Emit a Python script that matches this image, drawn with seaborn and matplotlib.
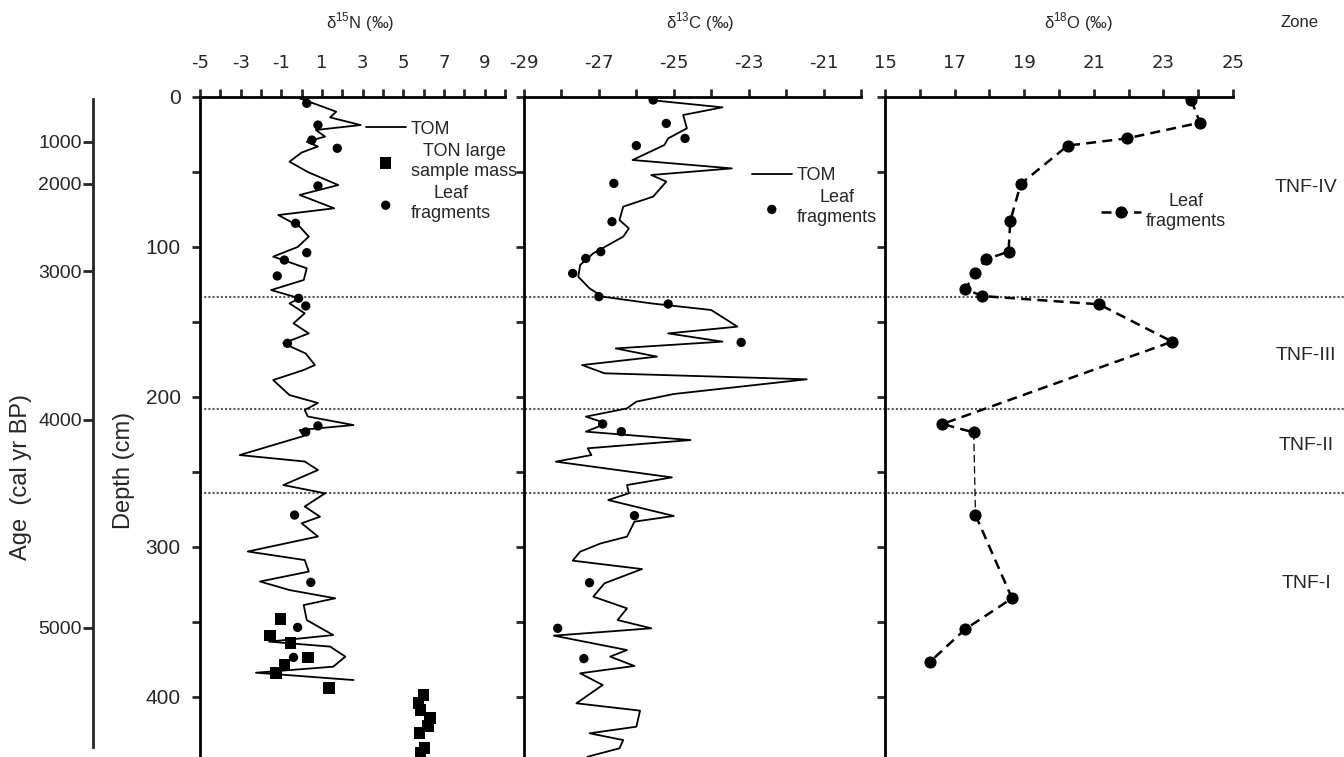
# Stable isotope profiles (d15N, d13C, d18O) vs depth, with age scale and zones

import numpy as np
import pandas as pd
import seaborn as sns
import matplotlib.pyplot as plt

# ---- data ----
# d15N of total organic matter
n15_tom_depth = [0.9, 5.3, 9.8, 13.6, 18.7, 22.0, 26.4, 29.8, 33.0, 37.0, 43.1, 50.0, 58.7, 65.3,
                 74.2, 78.7, 86.4, 93.1, 100.0, 106.4, 114.2, 122.0, 128.7, 134.2, 137.6, 144.2,
                 150.9, 157.6, 164.2, 171.0, 178.7, 182.0, 188.7, 198.7, 204.0, 208.7, 213.0,
                 218.7, 222.0, 226.0, 238.7, 243.0, 248.7, 258.7, 264.2, 273.0, 279.8, 284.2,
                 293.0, 303.0, 308.7, 316.4, 323.0, 328.7, 334.2, 338.7, 348.7, 358.7, 363.1,
                 366.4, 373.1, 379.8, 383.8, 388.7]
n15_tom_val = [-0.1, 0.8, 1.7, 1.4, 2.9, 0.7, 1.15, 0.25, 0.8, 0.0, -0.6, 0.3, 1.8, -0.1,
               1.6, -1.15, -0.1, 0.35, -0.2, -1.4, 0.25, 0.1, -1.5, -0.1, -0.6, 0.15,
               -0.4, 0.35, -0.9, 0.2, 0.65, 0.1, -1.4, -0.6, 0.8, 0.15, 0.3,
               2.55, -0.1, 0.1, -3.05, 0.15, 0.8, -0.9, 1.15, 0.15, 0.9, 0.0,
               0.8, -2.65, 0.15, 0.35, -2.05, -0.6, 1.65, 0.1, 0.25, 1.55, -1.6,
               1.4, 2.15, 1.55, -2.25, 2.55]
n15_leaf_depth = [4.2, 18.7, 28.7, 34.2, 59.3, 84.2, 103.8, 108.7, 119.3, 134.2, 139.3, 164.2,
                  219.3, 223.3, 278.7, 323.6, 353.6, 373.6]
n15_leaf_val = [0.25, 0.8, 0.5, 1.75, 0.8, -0.3, 0.25, -0.85, -1.2, -0.15, 0.2, -0.7,
                0.8, 0.2, -0.35, 0.45, -0.2, -0.4]
n15_ton_depth = [348.2, 359.1, 363.8, 373.6, 378.7, 383.8, 393.8, 398.7, 403.8, 408.7, 414.2,
                 419.3, 424.0, 434.2, 437.5]
n15_ton_val = [-1.05, -1.55, -0.55, 0.3, -0.85, -1.25, 1.35, 6.0, 5.75, 5.85, 6.3,
               6.2, 5.8, 6.05, 5.85]

# d13C
c13_tom_depth = [2.0, 6.9, 12.0, 20.9, 27.6, 32.0, 42.0, 47.6, 52.0, 56.4, 66.4, 73.1, 82.0,
                 87.6, 93.1, 104.2, 112.0, 119.8, 127.6, 133.1, 137.6, 142.0, 153.1, 157.6,
                 163.1, 167.6, 173.1, 178.7, 184.2, 188.2, 198.0, 203.1, 207.6, 213.1, 217.6,
                 223.1, 228.7, 234.2, 238.7, 243.1, 253.6, 258.7, 264.2, 268.7, 279.3, 283.1,
                 293.1, 297.6, 303.1, 309.1, 314.7, 324.2, 333.1, 340.9, 348.7, 354.2, 359.1,
                 368.7, 373.1, 379.3, 384.2, 392.0, 404.2, 409.1, 419.8, 424.2, 428.7, 434.2,
                 439.8]
c13_tom_val = [-25.65, -23.7, -24.75, -24.65, -25.15, -25.25, -26.1, -23.45, -25.6, -25.2,
               -25.55, -26.35, -26.45, -26.2, -26.35, -27.15, -27.5, -27.55, -27.25, -26.9,
               -25.6, -24.0, -23.3, -25.15, -23.7, -26.55, -25.45, -27.45, -26.85, -21.45,
               -25.0, -26.0, -26.25, -27.35, -26.8, -27.35, -24.55, -27.3, -27.2, -28.15,
               -25.05, -26.25, -26.2, -26.75, -25.0, -26.05, -26.25, -26.95, -27.5, -27.7,
               -25.85, -26.85, -27.15, -26.25, -26.5, -25.6, -28.2, -26.25, -26.7, -26.05,
               -27.5, -26.9, -27.6, -25.9, -26.0, -27.25, -26.35, -26.45, -27.3]
c13_leaf_depth = [2.0, 17.6, 27.6, 32.4, 57.6, 83.1, 103.1, 107.6, 117.6, 133.1, 138.0, 163.6,
                  218.0, 223.1, 279.1, 323.8, 354.2, 374.4]
c13_leaf_val = [-25.55, -25.2, -24.7, -26.0, -26.6, -26.65, -26.95, -27.35, -27.7, -27.0,
                -25.15, -23.2, -26.9, -26.4, -26.05, -27.25, -28.1, -27.4]

# d18O of leaf fragments
o18_depth = [2.0, 17.1, 27.6, 32.4, 58.0, 82.7, 103.1, 108.2, 117.6, 128.0, 132.7, 138.2,
             163.1, 218.0, 223.6, 278.7, 334.2, 354.9, 376.4]
o18_val = [23.8, 24.05, 21.95, 20.25, 18.9, 18.6, 18.55, 17.9, 17.6, 17.3, 17.8, 21.15,
           23.25, 16.65, 17.55, 17.6, 18.65, 17.3, 16.3]

# age scale (cal yr BP) and the depths they sit at
age_labels = [1000, 2000, 3000, 4000, 5000]
age_depth = [30, 58, 116, 215, 354]

# zone boundaries and labels
zone_bounds = [133, 208, 264]
zone_names = ["TNF-IV", "TNF-III", "TNF-II", "TNF-I"]
zone_mid = [60, 172, 232, 324]

n15_tom = pd.DataFrame({"val": n15_tom_val, "depth": n15_tom_depth})
n15_leaf = pd.DataFrame({"val": n15_leaf_val, "depth": n15_leaf_depth})
n15_ton = pd.DataFrame({"val": n15_ton_val, "depth": n15_ton_depth})
c13_tom = pd.DataFrame({"val": c13_tom_val, "depth": c13_tom_depth})
c13_leaf = pd.DataFrame({"val": c13_leaf_val, "depth": c13_leaf_depth})
o18 = pd.DataFrame({"val": o18_val, "depth": o18_depth})

sns.set_style("ticks")
plt.rcParams["font.family"] = ["Liberation Sans", "DejaVu Sans"]
plt.rcParams["mathtext.fontset"] = "custom"
plt.rcParams["mathtext.rm"] = "Liberation Sans"

W, H = 1344, 757
fig = plt.figure(figsize=(W / 100, H / 100), dpi=100)
top_h = 660 / H
ax0 = fig.add_axes([93 / W, 0, 0.001, top_h])
ax1 = fig.add_axes([200 / W, 0, 305 / W, top_h])
ax2 = fig.add_axes([524 / W, 0, 337 / W, top_h])
ax3 = fig.add_axes([885 / W, 0, 348 / W, top_h])

# d15N panel
sns.lineplot(data=n15_tom, x="val", y="depth", orient="y", sort=False, estimator=None,
             color="black", lw=1.3, label="TOM", ax=ax1)
sns.scatterplot(data=n15_ton, x="val", y="depth", marker="s", s=70, color="black",
                edgecolor="none", label="TON large\nsample mass", ax=ax1)
sns.scatterplot(data=n15_leaf, x="val", y="depth", marker="o", s=45, color="black",
                edgecolor="none", label="Leaf\nfragments", ax=ax1)

# d13C panel
sns.lineplot(data=c13_tom, x="val", y="depth", orient="y", sort=False, estimator=None,
             color="black", lw=1.3, label="TOM", ax=ax2)
sns.scatterplot(data=c13_leaf, x="val", y="depth", marker="o", s=45, color="black",
                edgecolor="none", label="Leaf\nfragments", ax=ax2)

# d18O panel (thin dashes across the TNF-II / TNF-I gap)
sns.lineplot(data=o18.iloc[:15], x="val", y="depth", orient="y", sort=False, estimator=None,
             color="black", lw=1.8, linestyle=(0, (4, 2.5)), marker="o", ms=8, mec="black",
             label="Leaf\nfragments", ax=ax3)
sns.lineplot(data=o18.iloc[14:16], x="val", y="depth", orient="y", sort=False, estimator=None,
             color="black", lw=0.9, linestyle=(0, (6, 3)), ax=ax3)
sns.lineplot(data=o18.iloc[15:], x="val", y="depth", orient="y", sort=False, estimator=None,
             color="black", lw=1.8, linestyle=(0, (4, 2.5)), marker="o", ms=8, mec="black", ax=ax3)

panels = [
    (ax1, (-5, 10), range(-5, 10, 2), range(-4, 11, 2), "δ$^{15}$N (‰)", 0.525),
    (ax2, (-29, -20), range(-29, -20, 2), range(-28, -19, 2), "δ$^{13}$C (‰)", 0.522),
    (ax3, (15, 25), range(15, 26, 2), range(16, 25, 2), "δ$^{18}$O (‰)", 0.557),
]
for ax, xlim, major, minor, title, tx in panels:
    ax.set_facecolor("none")
    ax.set_xlim(*xlim)
    ax.set_ylim(440, 0)
    ax.xaxis.tick_top()
    ax.set_xticks(list(major))
    ax.set_xticks(list(minor), minor=True)
    ax.set_xticklabels([str(v) for v in major])
    ax.set_yticks(range(0, 401, 100))
    ax.set_yticks(range(50, 401, 100), minor=True)
    ax.tick_params(axis="x", which="both", length=6, width=2, pad=12, labelsize=13,
                   labelfontfamily="DejaVu Sans")
    ax.tick_params(axis="y", which="both", length=6, width=2, pad=8, labelsize=15)
    ax.set_xlabel("")
    ax.set_ylabel("")
    for s in ("bottom", "right"):
        ax.spines[s].set_visible(False)
    for s in ("top", "left"):
        ax.spines[s].set_linewidth(2)
        ax.spines[s].set_color("black")
    ax.text(tx, 1.1136, title, transform=ax.transAxes, ha="center", va="center", fontsize=12)

ax2.set_yticklabels([])
ax3.set_yticklabels([])

# legends
for ax, anchor in [(ax1, (0.52, 0.975)), (ax2, (0.655, 0.905)), (ax3, (0.6, 0.865))]:
    leg = ax.legend(loc="upper left", bbox_to_anchor=anchor, frameon=False, fontsize=13,
                    handlelength=2.2, handletextpad=0.3, labelspacing=0.3, borderaxespad=0)
    for t in leg.get_texts():
        t.set_multialignment("center")

# zone boundary lines across all panels
pos = ax1.get_position()
xmax = (1 - pos.x0) / pos.width
for d in zone_bounds:
    ax1.axhline(d, xmin=0, xmax=xmax, clip_on=False, color="#555555", lw=1.5,
                linestyle=(0, (1, 1)), zorder=0)

# zone labels
zx = ax3.get_xaxis_transform()
ax3.text(26.9, 1.1136, "Zone", transform=zx, ha="center", va="center", fontsize=12,
         clip_on=False)
for name, d in zip(zone_names, zone_mid):
    ax3.text(27.1, d, name, ha="center", va="center", fontsize=14, clip_on=False)

# age axis
ax0.set_facecolor("none")
ax0.set_ylim(440, 0)
ax0.set_xticks([])
ax0.set_yticks(age_depth)
ax0.set_yticklabels([str(a) for a in age_labels])
ax0.tick_params(axis="y", length=7, width=2, pad=1, labelsize=14)
for s in ("top", "right", "bottom"):
    ax0.spines[s].set_visible(False)
ax0.spines["left"].set_linewidth(2)
ax0.spines["left"].set_bounds(1, 433)

fig.text(124 / W, 1 - 470 / H, "Depth (cm)", rotation=90, ha="center", va="center", fontsize=17)
fig.text(21 / W, 1 - 477 / H, "Age  (cal yr BP)", rotation=90, ha="center", va="center",
         fontsize=17)

fig.savefig("out.png", dpi=100)
